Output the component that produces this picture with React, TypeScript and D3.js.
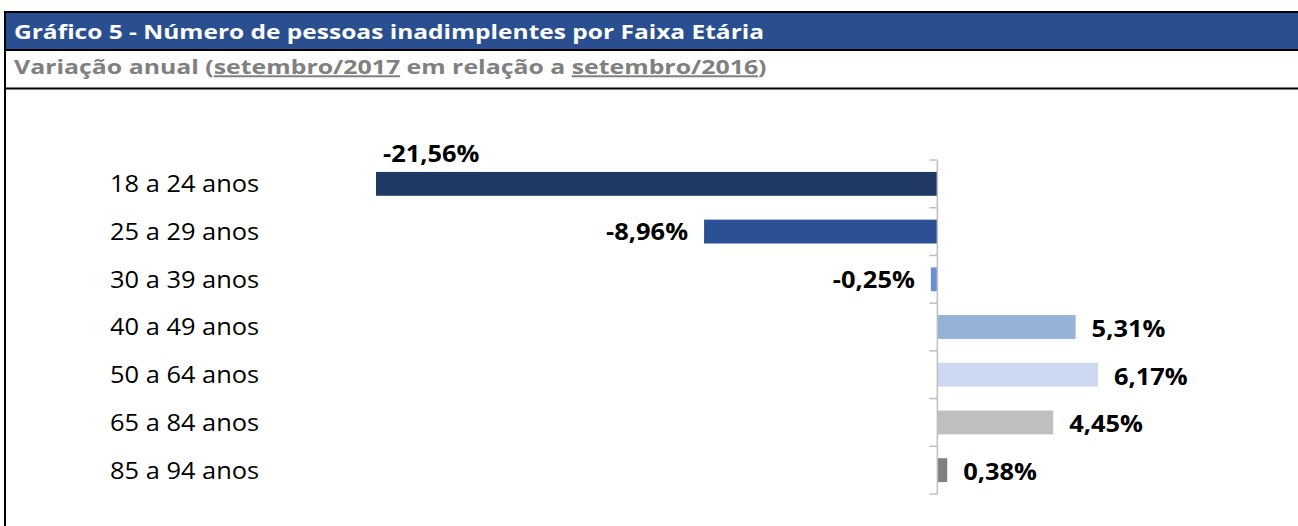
import React from "react";
import * as d3 from "d3";

const categories = ["18 a 24 anos", "25 a 29 anos", "30 a 39 anos", "40 a 49 anos", "50 a 64 anos", "65 a 84 anos", "85 a 94 anos"];
const values = [-21.56, -8.96, -0.25, 5.31, 6.17, 4.45, 0.38];
const barColors = ["#1F3864", "#2B5096", "#6A8FD4", "#95B3D7", "#CDD9F0", "#BFBFBF", "#808080"];
const titleText = "Gráfico 5 - Número de pessoas inadimplentes por Faixa Etária";

const W = 1298;
const H = 526;
const FONT = "'Open Sans', sans-serif";

const fmt = (v: number) => v.toFixed(2).replace(".", ",") + "%";

function SText(props: { x: number; y: number; sx: number; children: any; [k: string]: any }) {
  const { x, y, sx, children, ...rest } = props;
  return (
    <g transform={`translate(${x},${y}) scale(${sx},1)`}>
      <text x={0} y={0} fontFamily={FONT} {...rest}>
        {children}
      </text>
    </g>
  );
}

export default function App() {
  const x = d3.scaleLinear().domain([-21.56, 6.17]).range([376, 1098]);
  const y = d3.scaleBand<string>().domain(categories).range([160, 494]).paddingInner(0.5).paddingOuter(0.25);
  const step = y.step();
  const x0 = x(0);
  const tickYs = d3.range(categories.length + 1).map((i) => 160 + i * step);
  const VS = 24;
  const VSX = 1.06;

  return (
    <div style={{ position: "absolute", left: 0, top: 0 }}>
      <svg width={W} height={H} style={{ display: "block", background: "#fff" }}>
        {/* header */}
        <rect x={5} y={12} width={W} height={37} fill="#2A4F91" />
        <line x1={4} x2={W} y1={12} y2={12} stroke="#000" strokeWidth={2} />
        <line x1={4} x2={W} y1={50} y2={50} stroke="#000" strokeWidth={2} />
        <line x1={4} x2={W} y1={88.5} y2={88.5} stroke="#000" strokeWidth={2} />
        <line x1={5} x2={5} y1={11} y2={H} stroke="#000" strokeWidth={2} />
        <SText x={14} y={38.5} sx={1.225} fill="#fff" fontWeight="bold" fontSize={20}>
          {titleText}
        </SText>
        <SText x={14} y={73.5} sx={1.243} fill="#808080" fontWeight="bold" fontSize={20}>
          <tspan>Variação anual (</tspan>
          <tspan style={{ textDecoration: "underline" }}>setembro/2017</tspan>
          <tspan> em relação a </tspan>
          <tspan style={{ textDecoration: "underline" }}>setembro/2016</tspan>
          <tspan>)</tspan>
        </SText>

        {/* bars */}
        {categories.map((c, i) => {
          const v = values[i];
          const bx = Math.min(x(v), x0);
          const bw = Math.abs(x(v) - x0);
          const by = y(c)!;
          const bh = y.bandwidth();
          const cy = by + bh / 2;
          let label;
          if (v < 0 && x(v) < 420) {
            label = (
              <SText x={x(v) + 7} y={by - 10} sx={VSX} fontWeight="bold" fontSize={VS} fill="#000">
                {fmt(v)}
              </SText>
            );
          } else if (v < 0) {
            label = (
              <SText x={x(v) - 16} y={cy + 8.4} sx={VSX} textAnchor="end" fontWeight="bold" fontSize={VS} fill="#000">
                {fmt(v)}
              </SText>
            );
          } else {
            label = (
              <SText x={x(v) + 16} y={cy + 10} sx={VSX} textAnchor="start" fontWeight="bold" fontSize={VS} fill="#000">
                {fmt(v)}
              </SText>
            );
          }
          return (
            <g key={c}>
              <rect x={bx} y={by} width={bw} height={bh} fill={barColors[i]} />
              {label}
              <SText x={110} y={cy + 8.4} sx={1.06} fontSize={24} fill="#000">
                {c}
              </SText>
            </g>
          );
        })}

        {/* axis */}
        <line x1={x0} x2={x0} y1={160} y2={494} stroke="#BFBFBF" strokeWidth={1.5} />
        {tickYs.map((t, i) => (
          <line key={i} x1={x0 - 8} x2={x0} y1={t} y2={t} stroke="#BFBFBF" strokeWidth={1.5} />
        ))}
      </svg>
    </div>
  );
}
